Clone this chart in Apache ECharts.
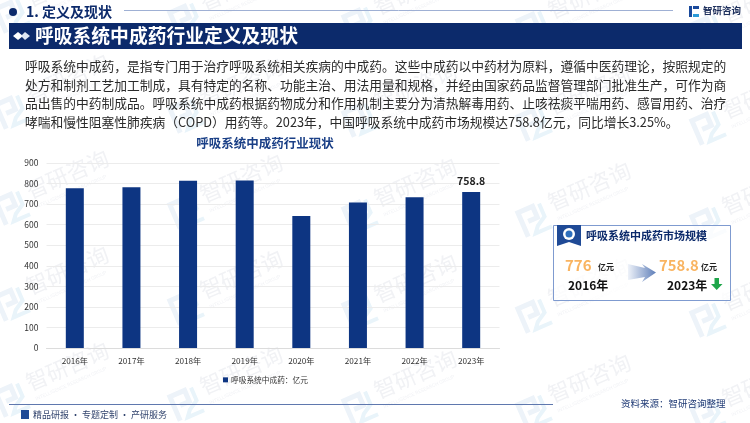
<!DOCTYPE html>
<html>
<head>
<meta charset="utf-8">
<style>
html,body{margin:0;padding:0;background:#fff}
#chart{width:750px;height:423px}
</style>
<script src="https://cdn.jsdelivr.net/npm/echarts@6/dist/echarts.min.js"></script>
</head>
<body>
<div id="chart"></div>
<script>
var years = ['2016年','2017年','2018年','2019年','2020年','2021年','2022年','2023年'];
var values = [777, 782, 814, 815, 642, 708, 733, 758.8];
var seriesName = '呼吸系统中成药：亿元';
var paragraph = [
  '呼吸系统中成药，是指专门用于治疗呼吸系统相关疾病的中成药。这些中成药以中药材为原料，遵循中医药理论，按照规定的',
  '处方和制剂工艺加工制成，具有特定的名称、功能主治、用法用量和规格，并经由国家药品监督管理部门批准生产，可作为商',
  '品出售的中药制成品。呼吸系统中成药根据药物成分和作用机制主要分为清热解毒用药、止咳祛痰平喘用药、感冒用药、治疗',
  '哮喘和慢性阻塞性肺疾病（COPD）用药等。2023年，中国呼吸系统中成药市场规模达758.8亿元，同比增长3.25%。'
];

var font = '"Noto Sans CJK SC", sans-serif';
var navy = '#0c2a6b';
var barBlue = '#0d3582';

function txt(x, y, text, size, color, weight, align, z) {
  return {
    type: 'text', x: x, y: y, z: z || 10,
    style: { text: text, fontSize: size, fontFamily: font, fill: color, fontWeight: weight || 'normal',
      align: align || 'left', verticalAlign: 'middle' }
  };
}

var g = [];

// 水印
for (var r = 0; r < 5; r++) {
  for (var c = 0; c < 5; c++) {
    g.push({ type: 'group', x: 68 + c * 174, y: -16 + r * 96 + c * 4, rotation: 0.41, z: 0, silent: true, children: [
      { type: 'polyline', shape: { points: [[-76,20],[-76,-6],[-60,-6],[-60,6],[-70,6]] }, style: { fill: 'none', stroke: '#edf3f9', lineWidth: 5 } },
      { type: 'polyline', shape: { points: [[-53,-6],[-53,8],[-63,14],[-68,20],[-50,20]] }, style: { fill: 'none', stroke: '#e9f4fa', lineWidth: 4 } },
      { type: 'text', x: -44, y: -2, style: { text: '智研咨询', fontSize: 22, fontFamily: font, fill: '#f1f2f5', verticalAlign: 'middle' } },
      { type: 'text', x: -42, y: 16, style: { text: 'INTELLIGENCE RESEARCH GROUP', fontSize: 5, fontFamily: 'Roboto', fill: '#f2f3f6', verticalAlign: 'middle' } }
    ] });
  }
}

// 顶部小标题
g.push({ type: 'circle', shape: { cx: 13, cy: 12, r: 4 }, style: { fill: navy }, z: 10 });
g.push(txt(26, 12, '1. 定义及现状', 14, navy, 'bold'));
g.push({ type: 'line', shape: { x1: 124, y1: 10.5, x2: 673, y2: 10.5 }, style: { stroke: '#9fb0d4', lineWidth: 1 }, z: 10 });

// 右上角 logo
g.push({ type: 'rect', shape: { x: 689, y: 6, width: 3, height: 11 }, style: { fill: '#1a4a9c' }, z: 10 });
g.push({ type: 'rect', shape: { x: 693, y: 6, width: 6, height: 3 }, style: { fill: '#1a4a9c' }, z: 10 });
g.push({ type: 'rect', shape: { x: 693, y: 14, width: 6, height: 3 }, style: { fill: '#2b9bd8' }, z: 10 });
g.push(txt(703, 10.5, '智研咨询', 9.5, '#20325e', 'bold'));

// 标题条
g.push({ type: 'rect', shape: { x: 9, y: 23, width: 733, height: 26 }, style: { fill: navy }, z: 5 });
g.push({ type: 'polygon', shape: { points: [[13,36],[18,32],[23,36],[18,40]] }, style: { fill: '#fff' }, z: 10 });
g.push({ type: 'polygon', shape: { points: [[21,36],[25,32],[30,36],[25,40]] }, style: { fill: '#dfe6f2' }, z: 10 });
g.push(txt(35, 36, '呼吸系统中成药行业定义及现状', 18.8, '#fff', 'bold'));

// 正文
paragraph.forEach(function (line, i) {
  g.push(txt(25, 66 + i * 18.8, line, 12.75, '#2a2a2a'));
});

// 右侧卡片
g.push({ type: 'rect', shape: { x: 553.5, y: 225.5, width: 177, height: 75 }, style: { fill: 'rgba(255,255,255,0.75)', stroke: '#7f9bd0', lineWidth: 1 }, z: 5 });
g.push({ type: 'polygon', shape: { points: [[557,225],[581,225],[581,246],[569,242],[557,246]] }, style: { fill: '#1f4a96' }, z: 6 });
g.push({ type: 'circle', shape: { cx: 569, cy: 234, r: 6 }, style: { fill: '#fff' }, z: 7 });
g.push({ type: 'circle', shape: { cx: 569, cy: 234, r: 3.5 }, style: { fill: '#2e6fbd' }, z: 8 });
g.push(txt(586, 236, '呼吸系统中成药市场规模', 11, navy, 'bold'));
g.push(txt(565, 265, '776', 15, '#f9b461', 'bold'));
g.push(txt(598, 267, '亿元', 8, '#222', 'bold'));
g.push(txt(568, 285, '2016年', 12, '#111', 'bold'));
g.push({
  type: 'polygon',
  shape: { points: [[628,264],[645,268],[642,264],[656,272.5],[642,282],[645,277],[628,280]] },
  style: { fill: new echarts.graphic.LinearGradient(0, 0, 1, 0, [{ offset: 0, color: '#eef2f9' }, { offset: 1, color: '#5f7fb9' }]) },
  z: 8
});
g.push(txt(659, 265, '758.8', 14.8, '#f9b461', 'bold'));
g.push(txt(701, 267, '亿元', 8, '#222', 'bold'));
g.push(txt(667, 285, '2023年', 12, '#111', 'bold'));
g.push({ type: 'polygon', shape: { points: [[714.5,278],[719,278],[719,284],[722.5,284],[716.7,290],[711,284],[714.5,284]] }, style: { fill: '#1fa64a' }, z: 10 });

// 底部
g.push({ type: 'line', shape: { x1: 9, y1: 404.5, x2: 553, y2: 404.5 }, style: { stroke: '#5f78ae', lineWidth: 1 }, z: 10 });
g.push({ type: 'rect', shape: { x: 21, y: 410, width: 8, height: 9 }, style: { fill: '#1f4a96' }, z: 10 });
g.push(txt(33, 415, '精品研报 · 专题定制 · 产研服务', 9, '#33456e'));
g.push(txt(621, 403, '资料来源：智研咨询整理', 9.5, '#1f3a75'));

var myChart = echarts.init(document.getElementById('chart'));
myChart.setOption({
  animation: false,
  textStyle: { fontFamily: font },
  title: {
    text: '呼吸系统中成药行业现状', left: 260, top: 132, textAlign: 'center',
    textStyle: { fontSize: 12.5, fontWeight: 'bold', color: '#1a3f86', fontFamily: font }
  },
  legend: {
    left: 218, top: 371, itemWidth: 5, itemHeight: 5, itemGap: 3,
    icon: 'rect', data: [seriesName],
    textStyle: { fontSize: 7.7, color: '#333', fontFamily: font, padding: [0, 0, 0, -2] }
  },
  grid: { left: 46.5, right: 250.5, top: 163, bottom: 75 },
  xAxis: {
    type: 'category', data: years,
    axisLine: { lineStyle: { color: '#dcdcdc' } },
    axisTick: { show: false },
    axisLabel: { fontSize: 8.2, color: '#333', margin: 9 }
  },
  yAxis: {
    type: 'value', min: 0, max: 900, interval: 100,
    axisLine: { show: false }, axisTick: { show: false },
    axisLabel: { fontSize: 8.5, color: '#333', margin: 8 },
    splitLine: { lineStyle: { color: '#ececec', width: 1 } }
  },
  series: [{
    name: seriesName, type: 'bar', data: values, barWidth: 18,
    itemStyle: { color: barBlue },
    label: {
      show: true, position: 'top', fontSize: 10.5, fontWeight: 'bold', color: '#222', distance: 6,
      formatter: function (p) { return p.dataIndex === values.length - 1 ? p.value : ''; }
    }
  }],
  graphic: { elements: g }
});
window.addEventListener('resize', function () { myChart.resize(); });
</script>
</body>
</html>
